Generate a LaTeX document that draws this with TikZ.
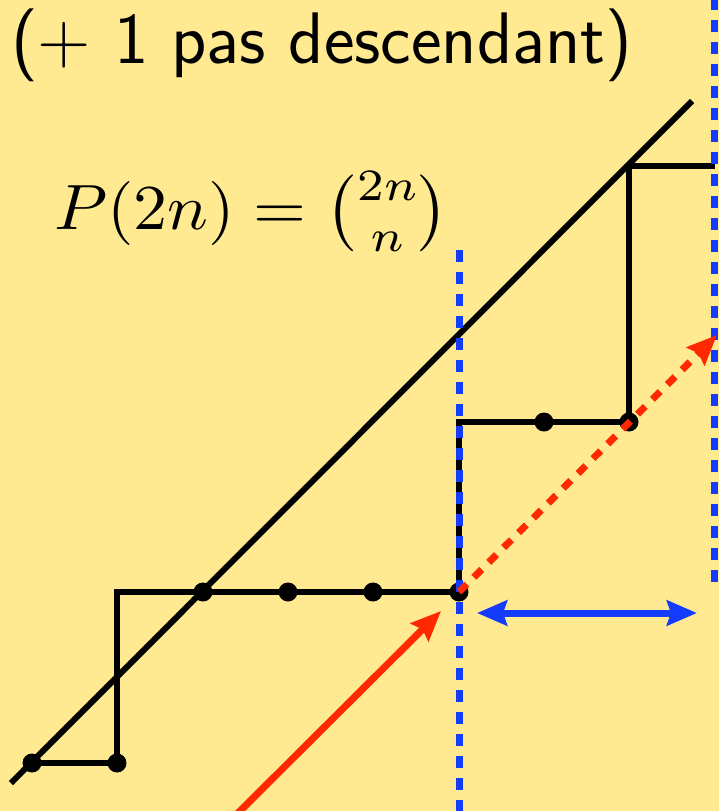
\documentclass[tikz,border=0pt]{standalone}
\usepackage{amsmath}
\usepackage{graphicx}
\usetikzlibrary{arrows.meta}
\definecolor{bg}{RGB}{255,234,145}
\definecolor{myred}{RGB}{255,40,0}
\definecolor{myblue}{RGB}{20,60,255}
\begin{document}
\begin{tikzpicture}[x=1pt,y=-1pt,
  blackline/.style={line width=6pt,black,line join=miter},
  dot/.style={circle,fill=black,inner sep=0pt,minimum size=19pt},
  bluedash/.style={line width=7pt,myblue,dash pattern=on 12pt off 10pt},
  reddash/.style={line width=7pt,myred,dash pattern=on 11pt off 10pt},
  head/.style={-{Stealth[length=30pt,width=25pt,inset=4pt]}},
  dhead/.style={{Stealth[length=30pt,width=25pt,inset=4pt]}-{Stealth[length=30pt,width=25pt,inset=4pt]}},
  lbl/.style={inner sep=0pt,anchor=base west}]
\fill[bg] (0,0) rectangle (719,811);
\useasboundingbox (0,0) rectangle (719,811);
\clip (0,0) rectangle (719,811);
% texts
\node[lbl,font=\fontsize{73}{80}\sffamily] (title) at (11,63) {(+ 1 pas descendant)};
\node[lbl] (formula) at (54,229) {\scalebox{6.8}[6.4]{$P(2n) = \binom{2n}{n}$}};
% coordinates
\coordinate (d0) at (32,763);
\coordinate (d1) at (117,763);
\coordinate (c1) at (117,592);
\coordinate (d2) at (203,592);
\coordinate (d3) at (288,592);
\coordinate (d4) at (373,592);
\coordinate (d5) at (459,592);
\coordinate (c2) at (459,422);
\coordinate (d6) at (544,422);
\coordinate (d7) at (629,422);
\coordinate (c3) at (629,166);
\coordinate (e) at (715,166);
\coordinate (g1) at (11,783);
\coordinate (g2) at (692,101);
% diagonal and path
\draw[blackline] (g1) -- (g2);
\draw[blackline] (d0) -- (d1) -- (c1) -- (d5) -- (c2) -- (d7) -- (c3) -- (e);
\foreach \p in {d0,d1,d2,d3,d4,d5,d6,d7} \node[dot] at (\p) {};
% blue dotted lines
\coordinate (b1a) at (459,250);
\coordinate (b1b) at (459,815);
\coordinate (b2a) at (714,-2);
\coordinate (b2b) at (714,582);
\draw[bluedash] (b1a) -- (b1b);
\draw[bluedash] (b2a) -- (b2b);
% red arrows
\coordinate (r2) at (717,335);
\draw[reddash,head] (d5) -- (r2);
\coordinate (r0) at (236,815);
\coordinate (r1) at (441,611);
\draw[line width=7pt,myred,head] (r0) -- (r1);
% blue double arrow
\coordinate (h1) at (477,613);
\coordinate (h2) at (697,613);
\draw[line width=7pt,myblue,dhead] (h1) -- (h2);
\end{tikzpicture}
\end{document}
